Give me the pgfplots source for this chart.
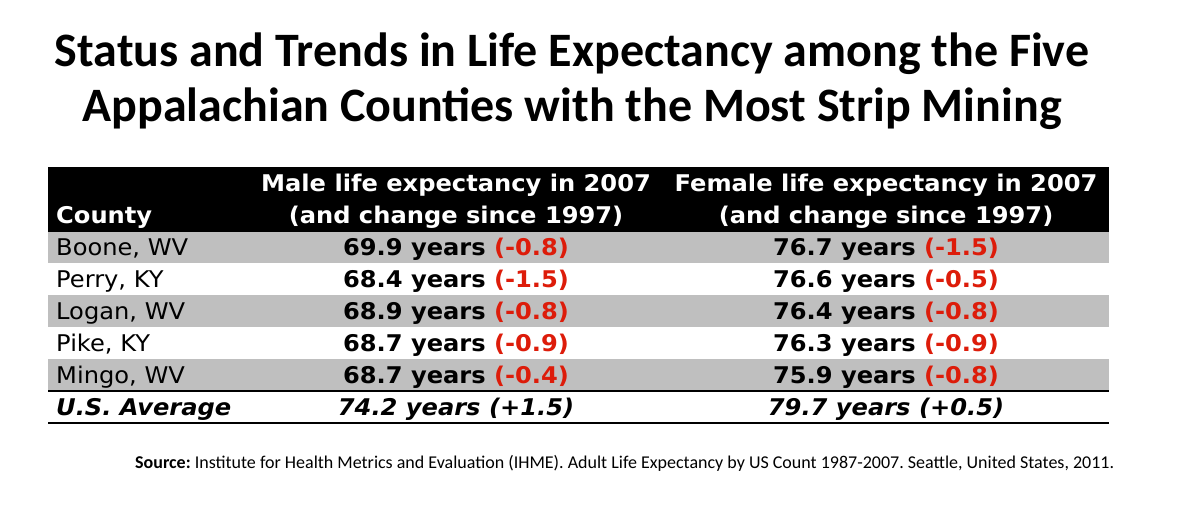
\documentclass[border=0pt]{standalone}
\usepackage{pgfplots}
\pgfplotsset{compat=1.18}
\usepackage{fontspec}
\newfontfamily\tabfont[FakeStretch=1.05]{DejaVu Sans}
\newfontfamily\titlefont{Carlito}
\definecolor{cred}{HTML}{DD1C0A}
\definecolor{cgray}{HTML}{BFBFBF}
\frenchspacing
\pgfplotsset{
  txt/.style={only marks, mark=none, nodes near coords, point meta=explicit symbolic,
    every node near coord/.append style={anchor=base, inner sep=0pt, #1}},
}
\begin{document}
\begin{tikzpicture}
\begin{axis}[width=1178bp, height=513bp, scale only axis,
  xmin=0, xmax=1178, ymin=0, ymax=513, y dir=reverse,
  hide axis, clip=false]
% frame (invisible) to fix the picture size
\addplot[draw=none] coordinates {(0,0) (1178,513)};
% header background
\addplot[fill=black, draw=none] coordinates {(48,167) (1109,167) (1109,232) (48,232)} --cycle;
% gray rows
\addplot[fill=cgray, draw=none] coordinates {(48,232) (1109,232) (1109,263) (48,263)} --cycle;
\addplot[fill=cgray, draw=none] coordinates {(48,295) (1109,295) (1109,327) (48,327)} --cycle;
\addplot[fill=cgray, draw=none] coordinates {(48,359) (1109,359) (1109,391) (48,391)} --cycle;
% rules
\addplot[black, line width=1.5bp] coordinates {(48,391) (1109,391)};
\addplot[black, line width=1.5bp] coordinates {(48,423) (1109,423)};
% title
\addplot[txt={font=\titlefont\bfseries\fontsize{48bp}{58bp}\selectfont}] coordinates {
  (572,67) [Status and Trends in Life Expectancy among the Five]
  (572,121) [Appalachian Counties with the Most Strip Mining]
};
% header
\addplot[txt={anchor=base west, text=white, font=\tabfont\bfseries\fontsize{23bp}{28bp}\selectfont}] coordinates {
  (56,223) [County]
};
\addplot[txt={text=white, font=\tabfont\bfseries\fontsize{23bp}{28bp}\selectfont}] coordinates {
  (456,191) [Male life expectancy in 2007]
  (456,223) [(and change since 1997)]
  (886,191) [Female life expectancy in 2007]
  (886,223) [(and change since 1997)]
};
% county names
\addplot[txt={anchor=base west, font=\tabfont\fontsize{23bp}{28bp}\selectfont}] coordinates {
  (56,255) [Boone, WV]
  (56,287) [Perry, KY]
  (56,319) [Logan, WV]
  (56,351) [Pike, KY]
  (56,383) [Mingo, WV]
};
\addplot[txt={anchor=base west, font=\tabfont\bfseries\itshape\fontsize{23bp}{28bp}\selectfont}] coordinates {
  (56,415) [U.S. Average]
};
% values
\addplot[txt={font=\tabfont\bfseries\fontsize{23bp}{28bp}\selectfont}] coordinates {
  (456,255) [69.9 years \textcolor{cred}{(-0.8)}]
  (456,287) [68.4 years \textcolor{cred}{(-1.5)}]
  (456,319) [68.9 years \textcolor{cred}{(-0.8)}]
  (456,351) [68.7 years \textcolor{cred}{(-0.9)}]
  (456,383) [68.7 years \textcolor{cred}{(-0.4)}]
  (886,255) [76.7 years \textcolor{cred}{(-1.5)}]
  (886,287) [76.6 years \textcolor{cred}{(-0.5)}]
  (886,319) [76.4 years \textcolor{cred}{(-0.8)}]
  (886,351) [76.3 years \textcolor{cred}{(-0.9)}]
  (886,383) [75.9 years \textcolor{cred}{(-0.8)}]
};
\addplot[txt={font=\tabfont\bfseries\itshape\fontsize{23bp}{28bp}\selectfont}] coordinates {
  (456,415) [74.2 years (+1.5)]
  (886,415) [79.7 years (+0.5)]
};
% source
\addplot[txt={anchor=base west, font=\titlefont\fontsize{18bp}{22bp}\selectfont}] coordinates {
  (135,468) [\textbf{Source:} Institute for Health Metrics and Evaluation (IHME). Adult Life Expectancy by US Count 1987-2007. Seattle, United States, 2011.]
};
\end{axis}
\end{tikzpicture}
\end{document}
